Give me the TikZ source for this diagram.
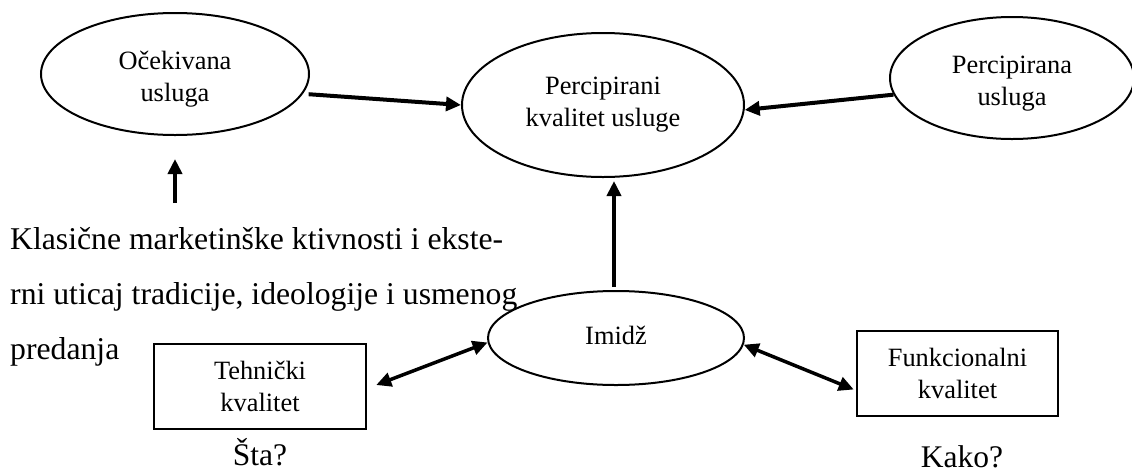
\documentclass[tikz,border=0pt]{standalone}
\usepackage{fontspec}
\setmainfont{Liberation Serif}
\usetikzlibrary{shapes.geometric,arrows.meta,calc}

\begin{document}
\begin{tikzpicture}[x=1pt,y=-1pt,
  oval/.style={draw, line width=2pt, ellipse, inner sep=0pt},
  natpis/.style={inner sep=0pt, align=center, font=\fontsize{26.4}{32}\selectfont},
  kutija/.style={draw, line width=2.5pt, rectangle, inner sep=0pt, align=center,
    font=\fontsize{26.4}{32}\selectfont},
  tekst/.style={inner sep=0pt, anchor=base west, font=\fontsize{31.7}{38}\selectfont},
  pitanje/.style={inner sep=0pt, anchor=base, font=\fontsize{31.5}{38}\selectfont},
  strelica/.style={line width=4pt, -{Triangle[length=15pt,width=14pt]}},
  dvostrelica/.style={line width=3.5pt,
    {Triangle[length=15pt,width=14pt]}-{Triangle[length=15pt,width=14pt]}},
]
\useasboundingbox (0,0) rectangle (1132,472);

% ovals and their captions
\node[oval, minimum width=268pt, minimum height=122pt] (ocek) at (175,74) {};
\node[natpis] (ocek-t) at ([yshift=-5pt]ocek.center) {Očekivana\\usluga};
\node[oval, minimum width=282pt, minimum height=144pt] (perc) at (603,105) {};
\node[natpis] (perc-t) at (perc.center) {Percipirani\\kvalitet usluge};
\node[oval, minimum width=244pt, minimum height=122pt] (percu) at (1012,78) {};
\node[natpis] (percu-t) at ([yshift=-6pt]percu.center) {Percipirana\\usluga};
\node[oval, minimum width=256pt, minimum height=94pt] (imidz) at (616,338) {};
\node[natpis] (imidz-t) at ([yshift=3pt]imidz.center) {Imidž};

% boxes
\node[kutija, minimum width=212pt, minimum height=85pt] (tehn) at (260,386.5) {Tehnički\\kvalitet};
\node[kutija, minimum width=201pt, minimum height=85pt] (funk) at (957.5,373.5) {Funkcionalni\\kvalitet};

% free text
\node[tekst] (l1) at (10,249) {Klasične marketinške ktivnosti i ekste-};
\node[tekst] (l2) at (10,304) {rni uticaj tradicije, ideologije i usmenog};
\node[tekst] (l3) at (10,359) {predanja};
\node[pitanje] (sta) at (260,465) {Šta?};
\node[pitanje] (kako) at (962,467) {Kako?};

% connectors
\coordinate (izvor) at (175,203);
\draw[strelica] (izvor) -- ([yshift=-23pt]ocek.south);
\draw[strelica] ([xshift=6pt]ocek.-9) -- (perc.west);
\draw[strelica] (percu.188) -- (perc.-2);
\draw[strelica] ([xshift=-2pt,yshift=3pt]imidz.north) -- ([xshift=-2pt,yshift=-3pt]imidz.north |- perc.south);
\draw[dvostrelica] ([xshift=9pt,yshift=1.5pt]tehn.east) -- (imidz.182);
\draw[dvostrelica] (imidz.-3) -- ([xshift=-2pt,yshift=-16pt]funk.west);
\end{tikzpicture}
\end{document}
